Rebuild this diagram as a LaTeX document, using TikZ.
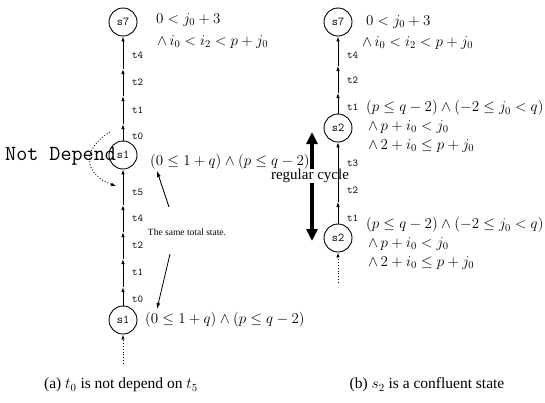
\RequirePackage{fix-cm}
\documentclass[tikz,border=0pt]{standalone}
\usepackage{fontspec}
\setmainfont{Liberation Serif}
\usetikzlibrary{arrows.meta}
\begin{document}
\begin{tikzpicture}[x=1pt,y=-1pt,
  st/.style={circle,draw,line width=0.9pt,minimum size=28pt,inner sep=0pt,font=\ttfamily\fontsize{12}{14}\selectfont},
  tr/.style={anchor=west,inner sep=0pt,font=\ttfamily\fontsize{10.5}{12}\selectfont},
  edge/.style={line width=0.9pt,-{Latex[length=5pt,width=3.5pt]}},
  dotedge/.style={line width=0.9pt,dotted,-{Latex[length=5pt,width=3.5pt]}},
  fm/.style={anchor=west,inner sep=0pt,font=\fontsize{15}{17}\selectfont},
  pointer/.style={line width=0.8pt,-{Latex[length=6pt,width=4pt]}},
  captext/.style={inner sep=0pt,font=\fontsize{15.5}{18}\selectfont}]
\useasboundingbox (0,0) rectangle (545,402);

% ---------- (a) ----------
\node[st] (s7a) at (123,22) {s7};
\node[st] (s1a) at (123,155) {s1};
\node[st] (s1b) at (123,320) {s1};
\coordinate (a1) at (123,124);
\coordinate (a2) at (123,96);
\coordinate (a3) at (123,69);
\draw[edge] (s1a) -- (a1);
\draw[edge] (a1) -- (a2);
\draw[edge] (a2) -- (a3);
\draw[edge] (a3) -- (s7a);
\node[tr] at (132,136) {t0};
\node[tr] at (132,110) {t1};
\node[tr] at (132,82) {t2};
\node[tr] at (132,55) {t4};

\coordinate (b1) at (123,287);
\coordinate (b2) at (123,259);
\coordinate (b3) at (123,232);
\coordinate (b4) at (123,205);
\draw[edge] (s1b) -- (b1);
\draw[edge] (b1) -- (b2);
\draw[edge] (b2) -- (b3);
\draw[edge] (b3) -- (b4);
\draw[edge] (b4) -- (s1a);
\node[tr] at (132,299) {t0};
\node[tr] at (132,272) {t1};
\node[tr] at (132,245) {t2};
\node[tr] at (132,218) {t4};
\node[tr] at (132,192) {t5};
\coordinate (abot) at (123,364);
\draw[dotedge] (abot) -- (s1b);

\node[anchor=west,inner sep=0pt,font=\ttfamily\fontsize{21.5}{23}\selectfont] (nd) at (5,156) {Not Depend};
\coordinate (n0) at (110,132);
\coordinate (n1) at (116,186);
\draw[dotedge] (n0) .. controls (80,150) and (85,175) .. (n1);

\node[fm] (fa1) at (156,20) {$0<j_0+3$};
\node[fm] (fa2) at (157,42) {$\wedge\, i_0<i_2<p+j_0$};

% regular cycle arrow and label (drawn before the formula over it)
\coordinate (rc0) at (312,132);
\coordinate (rc1) at (312,241);
\draw[line width=4pt,{Triangle[length=12pt,width=11pt]}-{Triangle[length=12pt,width=11pt]}] (rc0) -- (rc1);
\node[fill=white,inner sep=0.5pt,font=\fontsize{15}{17}\selectfont] (rc) at (310,176) {regular cycle};

\node[fm] (fa3) at (150,162) {$(0\leq 1+q)\wedge(p\leq q-2)$};
\node[fm] (fa4) at (145,320) {$(0\leq 1+q)\wedge(p\leq q-2)$};

\node[inner sep=0pt,font=\fontsize{9.5}{11}\selectfont] (same) at (187,232) {The same total state.};
\coordinate (u0) at (169,207);
\coordinate (u1) at (157,171);
\draw[pointer] (u0) -- (u1);
\coordinate (v0) at (170,254);
\coordinate (v1) at (157,309);
\draw[pointer] (v0) -- (v1);

\node[captext] (capa) at (121,385) {(a) $t_0$ is not depend on $t_5$};

% ---------- (b) ----------
\node[st] (s7b) at (338,22) {s7};
\node[st] (s2a) at (338,128) {s2};
\node[st] (s2b) at (338,238) {s2};
\coordinate (c1) at (338,93);
\coordinate (c2) at (338,66);
\draw[edge,line width=0.7pt] (s2a) -- (c1);
\draw[edge,line width=0.7pt] (c1) -- (c2);
\draw[edge,line width=0.7pt] (c2) -- (s7b);
\node[tr] at (347,107) {t1};
\node[tr] at (347,80) {t2};
\node[tr] at (347,55) {t4};
\coordinate (d1) at (338,202);
\draw[edge,line width=0.7pt] (s2b) -- (d1);
\draw[edge,line width=0.7pt] (d1) -- (s2a);
\node[tr] at (347,218) {t1};
\node[tr] at (347,190) {t2};
\node[tr] at (347,163) {t3};
\coordinate (bbot) at (338,283);
\draw[dotedge] (bbot) -- (s2b);

\node[fm] (fb1) at (366,22) {$0<j_0+3$};
\node[fm] (fb2) at (362,43) {$\wedge\, i_0<i_2<p+j_0$};
\node[fm] (fb3) at (366,108) {$(p\leq q-2)\wedge(-2\leq j_0<q)$};
\node[fm] (fb4) at (368,127) {$\wedge\, p+i_0<j_0$};
\node[fm] (fb5) at (368,146) {$\wedge\, 2+i_0\leq p+j_0$};
\node[fm] (fb6) at (366,225) {$(p\leq q-2)\wedge(-2\leq j_0<q)$};
\node[fm] (fb7) at (368,244) {$\wedge\, p+i_0<j_0$};
\node[fm] (fb8) at (368,263) {$\wedge\, 2+i_0\leq p+j_0$};

\node[captext] (capb) at (427,385) {(b) $s_2$ is a confluent state};
\end{tikzpicture}
\end{document}
